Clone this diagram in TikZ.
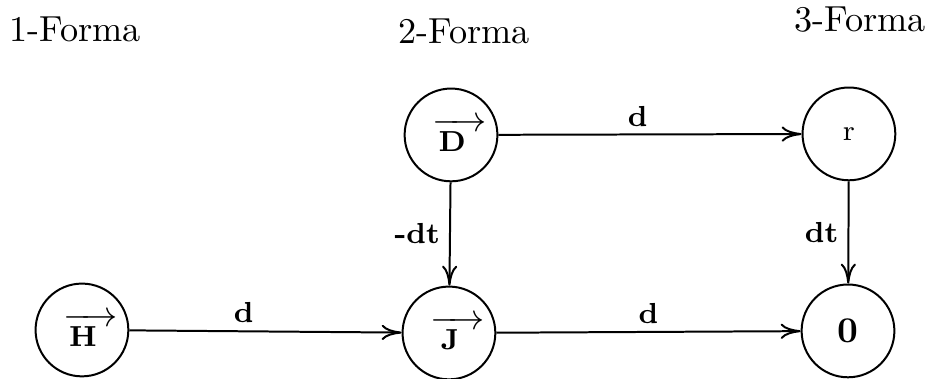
\documentclass[tikz,border=0pt]{standalone}
\usetikzlibrary{arrows.meta}
\newcommand{\fvec}[1]{$\kern4.6pt\overrightarrow{\makebox[15pt]{\rule{0pt}{6.6pt}\footnotesize$\mathbf{#1}$\kern4pt}}$}
\tikzset{
  form/.style={draw, circle, line width=0.55pt, minimum size=0.9cm, inner sep=0pt},
  flow/.style={line width=0.55pt, -{Computer Modern Rightarrow[length=5.5pt,width=4.2pt]}},
  flab/.style={font=\footnotesize\bfseries, inner sep=2pt},
  formtitle/.style={anchor=base, inner sep=0pt},
}
\begin{document}
\begin{tikzpicture}[x=1cm,y=1cm]
\useasboundingbox (0,0) rectangle (9.031,3.676);
% titles
\node[formtitle] (t1) at (0.728,3.269) {1-Forma};
\node[formtitle] (t2) at (4.500,3.250) {2-Forma};
\node[formtitle] (t3) at (8.342,3.366) {3-Forma};
% forms
\node[form] (H) at (0.795,0.475) {\fvec{H}};
\node[form] (J) at (4.355,0.446) {\fvec{J}};
\node[form] (D) at (4.375,2.367) {\fvec{D}};
\node[form, font=\footnotesize] (r) at (8.235,2.377) {r};
\node[form] (z) at (8.226,0.466) {\textbf{0}};
% maps
\draw[flow] (H) -- node[flab, above, pos=0.42] {d} (J);
\draw[flow] (J) -- node[flab, above] {d} (z);
\draw[flow] (D) -- node[flab, above, pos=0.46] {d} (r);
\draw[flow] (D) -- node[flab, left, inner sep=2.5pt] {-dt} (J);
\draw[flow] (r) -- node[flab, left, inner sep=2.5pt] {dt} (z);
\end{tikzpicture}
\end{document}
